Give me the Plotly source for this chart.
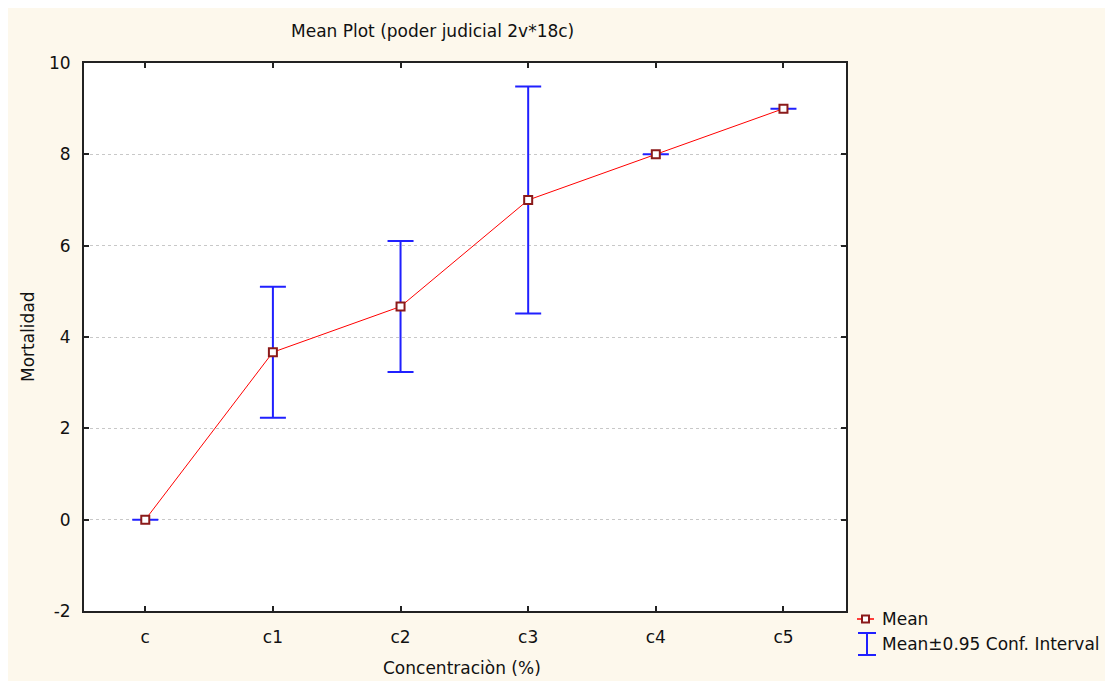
import plotly.graph_objects as go

# Mean mortality per concentration with 95% confidence half-widths
categories = ["c", "c1", "c2", "c3", "c4", "c5"]
means = [0.0, 3.667, 4.667, 7.0, 8.0, 9.0]
ci95 = [0.0, 1.434, 1.434, 2.484, 0.0, 0.0]
y_ticks = [-2, 0, 2, 4, 6, 8, 10]
y_tick_labels = ["-2", "0", "2", "4", "6", "8", "10"]

title_text = "Mean Plot (poder judicial 2v*18c)"
x_title = "Concentraciòn (%)"
y_title = "Mortalidad"
legend_mean = "Mean"
legend_ci = "Mean±0.95 Conf. Interval"

W, H = 1105, 681
L, R, T, B = 84, 846, 63, 611
FONT = "DejaVu Sans"
FS = 17
CREAM = "#FDF8EC"
RED = "#FF0000"
DARKRED = "#8B1A1A"
BLUE = "#2020FF"


def px(x):
    return (x - L) / (R - L)


def py(y):
    return (B - y) / (B - T)


xpos = list(range(len(categories)))

fig = go.Figure()
fig.add_trace(go.Scatter(
    x=xpos, y=means,
    mode="lines+markers",
    line=dict(color=RED, width=1),
    marker=dict(symbol="square", size=8, color="white",
                line=dict(color=DARKRED, width=2)),
    error_y=dict(type="data", array=ci95, visible=True,
                 color=BLUE, thickness=2, width=13),
    showlegend=False,
))

shapes = [
    # white strips along the top and left edges
    dict(type="rect", xref="paper", yref="paper", layer="below",
         x0=px(0), x1=px(W), y0=py(8), y1=py(0),
         fillcolor="white", line=dict(width=0)),
    dict(type="rect", xref="paper", yref="paper", layer="below",
         x0=px(0), x1=px(8), y0=py(H), y1=py(0),
         fillcolor="white", line=dict(width=0)),
    # legend: mean symbol
    dict(type="line", xref="paper", yref="paper",
         x0=px(857), x1=px(874), y0=py(619), y1=py(619),
         line=dict(color=RED, width=1.5)),
    dict(type="rect", xref="paper", yref="paper",
         x0=px(862), x1=px(869), y0=py(622.5), y1=py(615.5),
         fillcolor="white", line=dict(color=DARKRED, width=2)),
    # legend: confidence interval symbol
    dict(type="line", xref="paper", yref="paper",
         x0=px(867), x1=px(867), y0=py(655), y1=py(633),
         line=dict(color=BLUE, width=2)),
    dict(type="line", xref="paper", yref="paper",
         x0=px(858), x1=px(876), y0=py(633), y1=py(633),
         line=dict(color=BLUE, width=2)),
    dict(type="line", xref="paper", yref="paper",
         x0=px(858), x1=px(876), y0=py(655), y1=py(655),
         line=dict(color=BLUE, width=2)),
]

font = dict(family=FONT, size=FS, color="#111111")
annotations = [
    dict(text=title_text, x=px(432), y=py(31), xref="paper", yref="paper",
         showarrow=False, xanchor="center", yanchor="middle", font=font),
    dict(text=x_title, x=px(462), y=py(668), xref="paper", yref="paper",
         showarrow=False, xanchor="center", yanchor="middle", font=font),
    dict(text=y_title, x=px(28), y=py(337), xref="paper", yref="paper",
         showarrow=False, xanchor="center", yanchor="middle", textangle=-90,
         font=font),
    dict(text=legend_mean, x=px(880), y=py(619), xref="paper", yref="paper",
         showarrow=False, xanchor="left", yanchor="middle", font=font),
    dict(text=legend_ci, x=px(880), y=py(644), xref="paper", yref="paper",
         showarrow=False, xanchor="left", yanchor="middle", font=font),
]

fig.update_layout(
    width=W, height=H,
    margin=dict(l=L, r=W - R, t=T, b=H - B, pad=0),
    paper_bgcolor=CREAM,
    plot_bgcolor="white",
    font=font,
    shapes=shapes,
    annotations=annotations,
    showlegend=False,
)

fig.update_xaxes(
    range=[-0.48, 5.49],
    tickmode="array", tickvals=xpos, ticktext=categories,
    ticks="inside", ticklen=5, tickwidth=1.5, tickcolor="#222222",
    showline=True, linecolor="#222222", linewidth=2, mirror="ticks",
    showgrid=False, zeroline=False,
    ticklabelstandoff=10,
    tickfont=font,
)
fig.update_yaxes(
    range=[-2, 10],
    tickmode="array", tickvals=y_ticks, ticktext=y_tick_labels,
    ticks="inside", ticklen=5, tickwidth=1.5, tickcolor="#222222",
    showline=True, linecolor="#222222", linewidth=2, mirror="ticks",
    showgrid=True, gridcolor="#C8C8C8", gridwidth=1, griddash="dot",
    zeroline=False,
    ticklabelstandoff=8,
    tickfont=font,
)

fig.write_html("out.html")
